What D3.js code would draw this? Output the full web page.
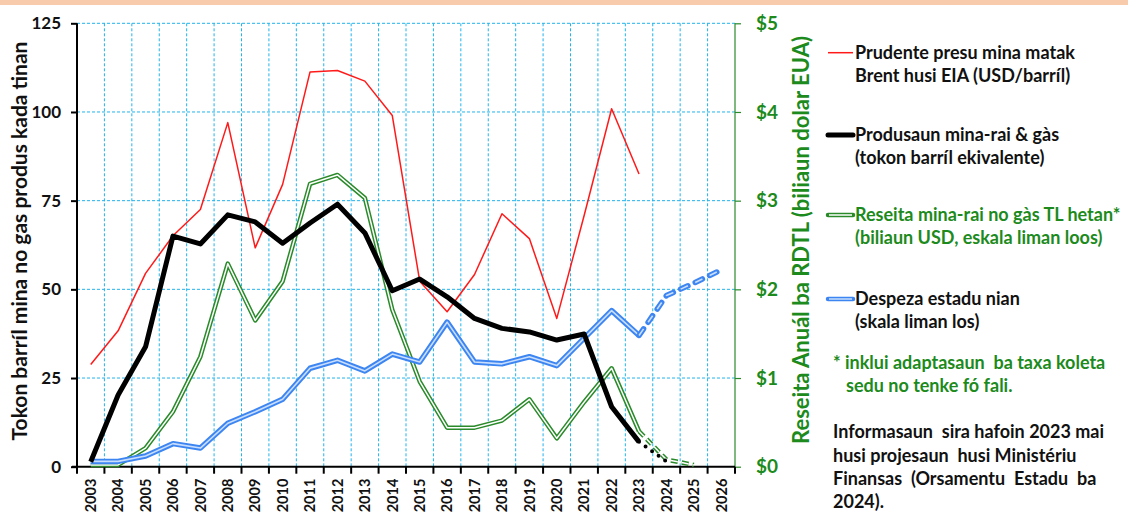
<!DOCTYPE html>
<html>
<head>
<meta charset="utf-8">
<script src="https://cdn.jsdelivr.net/npm/d3@7"></script>
<style>
  body { margin: 0; background: #fff; }
  svg { display: block; font-family: Lato, "Open Sans", sans-serif; font-weight: 700; }
</style>
</head>
<body>
<svg id="chart" width="1128" height="516"></svg>
<script>
// categories along the bottom axis
const years = ["2003", "2004", "2005", "2006", "2007", "2008", "2009", "2010", "2011", "2012", "2013", "2014",
  "2015", "2016", "2017", "2018", "2019", "2020", "2021", "2022", "2023", "2024", "2025", "2026"];
const actualYears = years.slice(0, 21); // 2003 - 2023

// Brent price (USD/barrel), left scale
const brentPrice = [28.8, 38.3, 54.5, 65.1, 72.5, 97.0, 61.7, 79.6, 111.3, 111.7, 108.7, 99.0,
  52.3, 43.7, 54.2, 71.3, 64.3, 41.8, 70.9, 100.9, 82.5];
// production (million barrels of oil equivalent), left scale
const production = [1.4, 20.2, 33.8, 65.0, 62.8, 71.0, 69.0, 63.0, 68.7, 74.0, 65.9, 49.6,
  52.9, 47.9, 41.8, 39.0, 38.0, 35.7, 37.4, 16.9, 7.0];
const productionProjYears = ["2023", "2024"];
const productionProj = [7.0, 1.5];
// petroleum revenue (billion USD), right scale
const revenue = [0.02, 0.02, 0.21, 0.62, 1.24, 2.29, 1.65, 2.09, 3.19, 3.29, 3.03, 1.77,
  0.96, 0.44, 0.44, 0.52, 0.76, 0.32, 0.73, 1.11, 0.40];
const revenueProjYears = ["2023", "2024", "2025"];
const revenueProj = [0.40, 0.08, 0.02];
// state spending (billion USD), right scale
const spending = [0.06, 0.06, 0.12, 0.26, 0.21, 0.49, 0.62, 0.76, 1.11, 1.20, 1.08, 1.27,
  1.18, 1.63, 1.18, 1.16, 1.24, 1.14, 1.45, 1.76, 1.48];
const spendingProjYears = ["2023", "2024", "2025", "2026"];
const spendingProj = [1.48, 1.93, 2.07, 2.22];

const leftTicks = [0, 25, 50, 75, 100, 125];
const rightTicks = [0, 1, 2, 3, 4, 5];

const leftTitle = "Tokon barríl mina no gas produs kada tinan";
const rightTitle = "Reseita Anuál ba RDTL (biliaun dolar EUA)";
const legendItems = [
  { type: "red", lines: ["Prudente presu mina matak", "Brent husi EIA (USD/barríl)"], color: "#111" },
  { type: "black", lines: ["Produsaun mina-rai & gàs", "(tokon barríl ekivalente)"], color: "#111" },
  { type: "green", lines: ["Reseita mina-rai no gàs TL hetan*", "(biliaun USD, eskala liman loos)"], color: "#1c8a1c" },
  { type: "blue", lines: ["Despeza estadu nian", "(skala liman los)"], color: "#111" },
];
const footnote = ["* inklui adaptasaun  ba taxa koleta", "sedu no tenke fó fali."];
const infoNote = ["Informasaun  sira hafoin 2023 mai", "husi projesaun  husi Ministériu",
  "Finansas  (Orsamentu  Estadu  ba", "2024)."];

const GREEN = "#2a8a2a";
const BLUE = "#3d86f2";
const RED = "#ff1a1a";
const GRID = "#1fb4ee";

const svg = d3.select("#chart");
const pLeft = 77, pRight = 735, pTop = 23.3, pBottom = 466.7;

// peach band across the top
svg.append("rect").attr("x", 0).attr("y", 0).attr("width", 1128).attr("height", 5).attr("fill", "#f8cbad");

const x = d3.scaleBand().domain(years).range([pLeft, pRight]);
const yL = d3.scaleLinear().domain([0, 125]).range([pBottom, pTop]);
const yR = d3.scaleLinear().domain([0, 5]).range([pBottom, pTop]);
const cx = (d) => x(d) + x.bandwidth() / 2;

// grid
const grid = svg.append("g").attr("stroke", GRID).attr("stroke-width", 1).attr("stroke-dasharray", "3,2");
grid.selectAll("line.h").data(leftTicks.slice(1)).join("line")
  .attr("x1", pLeft).attr("x2", pRight).attr("y1", (d) => yL(d)).attr("y2", (d) => yL(d));
grid.selectAll("line.v").data(years.slice(1)).join("line")
  .attr("x1", (d) => x(d)).attr("x2", (d) => x(d)).attr("y1", pTop).attr("y2", pBottom);

// left axis
const axL = svg.append("g").attr("transform", "translate(" + pLeft + ",0)")
  .call(d3.axisLeft(yL).tickValues(leftTicks).tickSize(6).tickPadding(10));
axL.select(".domain").attr("stroke", "#000").attr("stroke-width", 2).attr("d", "M0," + pBottom + "V" + pTop);
axL.selectAll(".tick line").attr("stroke", "#000").attr("stroke-width", 2);
axL.selectAll(".tick text").attr("font-size", "17px").attr("font-family", "Lato").attr("font-weight", 700).attr("fill", "#111");

// right axis
const axR = svg.append("g").attr("transform", "translate(" + pRight + ",0)")
  .call(d3.axisRight(yR).tickValues(rightTicks).tickSize(6).tickPadding(15).tickFormat((d) => "$" + d));
axR.select(".domain").attr("stroke", GREEN).attr("stroke-width", 1.2).attr("d", "M0," + pBottom + "V" + pTop);
axR.selectAll(".tick line").attr("stroke", GREEN).attr("stroke-width", 1.2);
axR.selectAll(".tick text").attr("font-size", "19px").attr("font-family", "Lato").attr("font-weight", 700).attr("fill", "#1c8a1c");

// bottom axis: labels at band centres, tick marks on band edges
const axB = svg.append("g").attr("transform", "translate(0," + pBottom + ")")
  .call(d3.axisBottom(x).tickSize(0).tickPadding(0));
axB.select(".domain").remove();
axB.selectAll(".tick text")
  .attr("font-size", "14.5px").attr("font-family", "Lato").attr("font-weight", 700).attr("fill", "#111")
  .attr("text-anchor", "end")
  .attr("transform", "rotate(-90)")
  .attr("x", -12).attr("y", 0).attr("dy", "0.36em");
svg.append("line").attr("x1", pLeft - 5).attr("x2", pRight).attr("y1", pBottom).attr("y2", pBottom)
  .attr("stroke", "#000").attr("stroke-width", 2);
svg.append("g").selectAll("line").data(years.map((d) => x(d)).concat([pRight])).join("line")
  .attr("x1", (d) => d).attr("x2", (d) => d).attr("y1", pBottom).attr("y2", pBottom + 7)
  .attr("stroke", "#000").attr("stroke-width", 2);

// axis titles
svg.append("text").attr("transform", "translate(27,241) rotate(-90)")
  .attr("text-anchor", "middle").attr("font-size", "21px").attr("fill", "#111").text(leftTitle);
svg.append("text").attr("transform", "translate(809,240) rotate(-90)")
  .attr("text-anchor", "middle").attr("font-size", "22px").attr("fill", "#1c8a1c").text(rightTitle);

// line helpers
const lineL = (ys, vals) => d3.line().x((d, i) => cx(ys[i])).y((d) => yL(d))(vals);
const lineR = (ys, vals) => d3.line().x((d, i) => cx(ys[i])).y((d) => yR(d))(vals);

const plot = svg.append("g").attr("fill", "none").attr("stroke-linejoin", "round");

// revenue: green double line
plot.append("path").attr("d", lineR(actualYears, revenue)).attr("stroke", GREEN).attr("stroke-width", 4.5);
plot.append("path").attr("d", lineR(actualYears, revenue)).attr("stroke", "#fff").attr("stroke-width", 1.5);
plot.append("path").attr("d", lineR(revenueProjYears, revenueProj)).attr("stroke", GREEN).attr("stroke-width", 4.5)
  .attr("stroke-dasharray", "7,4");
plot.append("path").attr("d", lineR(revenueProjYears, revenueProj)).attr("stroke", "#fff").attr("stroke-width", 1.5)
  .attr("stroke-dasharray", "7,4");

// spending: blue double line
plot.append("path").attr("d", lineR(actualYears, spending)).attr("stroke", BLUE).attr("stroke-width", 5.5);
plot.append("path").attr("d", lineR(actualYears, spending)).attr("stroke", "#c9defc").attr("stroke-width", 1.6);
plot.append("path").attr("d", lineR(spendingProjYears, spendingProj)).attr("stroke", BLUE).attr("stroke-width", 5.5)
  .attr("stroke-linecap", "round").attr("stroke-dasharray", "8,8");
plot.append("path").attr("d", lineR(spendingProjYears, spendingProj)).attr("stroke", "#c9defc").attr("stroke-width", 1.6)
  .attr("stroke-dasharray", "8,8");

// brent price: thin red
plot.append("path").attr("d", lineL(actualYears, brentPrice)).attr("stroke", RED).attr("stroke-width", 1.5);

// production: thick black
plot.append("path").attr("d", lineL(actualYears, production)).attr("stroke", "#000").attr("stroke-width", 5);
plot.append("path").attr("d", lineL(productionProjYears, productionProj)).attr("stroke", "#000").attr("stroke-width", 4)
  .attr("stroke-linecap", "round").attr("stroke-dasharray", "0,8");

// legend
const legendY = [52.7, 135, 215, 299];
const lg = svg.append("g");
legendItems.forEach((item, i) => {
  const y = legendY[i];
  if (item.type === "red") {
    lg.append("line").attr("x1", 828).attr("x2", 853).attr("y1", y).attr("y2", y).attr("stroke", RED).attr("stroke-width", 1.5);
  } else if (item.type === "black") {
    lg.append("line").attr("x1", 828).attr("x2", 853).attr("y1", y).attr("y2", y).attr("stroke", "#000").attr("stroke-width", 5)
      .attr("stroke-linecap", "round");
  } else {
    const c = item.type === "green" ? GREEN : BLUE;
    const inner = item.type === "green" ? "#fff" : "#c9defc";
    lg.append("line").attr("x1", 828).attr("x2", 853).attr("y1", y).attr("y2", y).attr("stroke", c).attr("stroke-width", 4.5)
      .attr("stroke-linecap", "round");
    lg.append("line").attr("x1", 829).attr("x2", 852).attr("y1", y).attr("y2", y).attr("stroke", inner).attr("stroke-width", 1.5);
  }
  item.lines.forEach((t, j) => {
    lg.append("text").attr("x", 855).attr("y", y + 6 + j * 23.3)
      .attr("font-size", "18px").attr("fill", item.color).text(t);
  });
});

svg.append("text").attr("x", 833).attr("y", 369).attr("font-size", "18px").attr("fill", "#1c8a1c")
  .style("white-space", "pre").text(footnote[0]);
svg.append("text").attr("x", 846).attr("y", 392).attr("font-size", "18px").attr("fill", "#1c8a1c").text(footnote[1]);
infoNote.forEach((t, j) => {
  svg.append("text").attr("x", 833).attr("y", 438.3 + j * 23.3).attr("font-size", "18px").attr("fill", "#111")
    .style("white-space", "pre").text(t);
});
</script>
</body>
</html>
